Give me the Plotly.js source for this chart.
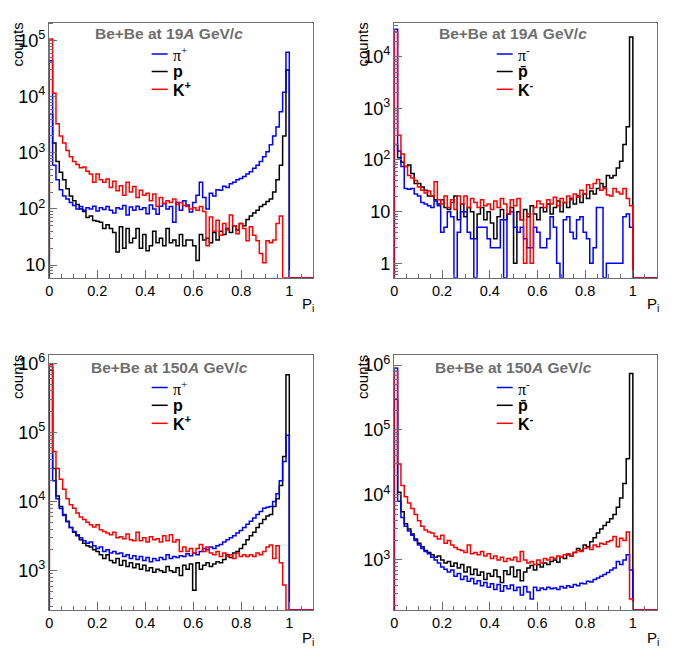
<!DOCTYPE html>
<html><head><meta charset="utf-8">
<script src="https://cdn.plot.ly/plotly-3.0.1.min.js"></script>
<style>html,body{margin:0;padding:0;background:#fff}#chart{width:685px;height:664px}</style>
</head><body><div id="chart"></div>
<script>
// ---- histogram binning (bin width 1/72 in P_i, empty bins continue past 1) ----
const BINS_PER_UNIT = 72;
const TOTAL_BINS = 80;

// ---- panel texts ----
const panelTitles = ['Be+Be at 19<i>A</i> GeV/<i>c</i>', 'Be+Be at 19<i>A</i> GeV/<i>c</i>',
                     'Be+Be at 150<i>A</i> GeV/<i>c</i>', 'Be+Be at 150<i>A</i> GeV/<i>c</i>'];
const legendPos = ['\u03c0<sup>+</sup>', 'p', 'K<sup>+</sup>'];
const legendNeg = ['\u03c0<sup>-</sup>', 'p\u0304', 'K<sup>-</sup>'];
const yLabel = 'counts';
const xLabel = 'P<sub>i</sub>';

// ---- Be+Be 19A GeV/c, positive ----
const pip19 = [44000,600,330,220,170,150,130,115,100,110,
  95,105,100,112,92,105,98,110,95,85,
  105,100,115,78,108,95,112,98,105,82,
  118,100,80,112,125,100,110,58,130,95,
  140,118,88,130,175,300,160,100,190,170,
  220,215,255,240,280,300,330,350,380,420,
  460,530,600,700,850,1050,1400,2000,2900,5400,
  12000,62000];
const p19 = [5000,1500,700,450,330,230,170,140,120,100,
  90,70,75,62,60,58,45,52,45,38,
  17,48,20,45,25,30,45,20,35,18,
  22,40,25,30,22,45,25,28,22,35,
  22,28,28,22,12,35,28,30,25,38,
  28,40,35,45,38,50,42,55,50,65,
  75,85,95,110,120,135,150,200,330,600,
  2000,30000];
const kp19 = [107000,11500,3300,2000,1500,1100,850,700,620,540,
  560,470,420,300,420,330,300,340,240,310,
  210,260,175,300,200,250,160,215,175,190,
  140,185,110,160,125,140,130,150,120,130,
  115,110,100,105,95,110,90,22,72,40,
  63,34,55,42,78,50,36,55,45,27,
  48,34,27,16,11,27,25,28,55,75,
  0,0];

// ---- Be+Be 19A GeV/c, negative ----
const pim19 = [34000,150,75,28,27,28,22,20,15,14,
  13,12,16,13,4,5,10,8,0,4,
  10,10,4,3,0,5,5,5,3,2,
  2,2,7,0,9,10,5,4,5,3,
  2,2,5,4,2,2,3,8,5,1,
  0,7,8,4,3,7,8,4,3,1,
  2,12,12,0,1,1,1,1,1,8,
  9,5];
const pbar19 = [200,110,90,75,80,55,35,35,30,26,
  20,20,17,14,17,12,11,15,20,7,
  14,8,12,10,3,9,12,7,10,6,
  3,8,11,7,9,12,1,10,7,11,
  8,13,9,7,12,10,14,9,12,16,
  10,15,12,18,14,20,15,22,18,25,
  22,28,35,30,50,45,50,70,95,200,
  440,24000];
const km19 = [30000,300,130,75,50,45,40,30,26,23,
  25,20,38,17,14,20,12,17,11,20,
  14,20,12,18,15,12,17,13,14,11,
  16,12,18,14,9,17,13,18,7,1,
  9,1,12,16,14,12,17,14,19,13,
  18,15,20,17,22,19,26,22,33,28,
  35,42,26,28,21,20,28,24,22,28,
  18,13];

// ---- Be+Be 150A GeV/c, positive ----
const pip150 = [900000,20000,11000,7900,6300,5100,4200,3700,3300,3000,
  2700,2500,2600,2300,2100,2200,1900,2000,1800,1900,
  1750,1800,1600,1700,1500,1650,1450,1600,1400,1550,
  1350,1500,1400,1550,1450,1700,1500,1600,1550,1650,
  1600,1750,1650,1800,1700,1900,2100,2000,2200,2100,
  2300,2400,2600,2800,3000,3200,3500,3800,4200,4700,
  5200,5800,6500,7200,8000,8300,8500,10000,13000,20000,
  38000,91000];
const p150 = [800000,30000,12000,8500,6500,5200,4200,3600,3200,2800,
  2500,2300,2200,2000,1900,1700,1500,1700,1400,1300,
  1500,1200,1400,1150,1300,1100,1250,1050,1200,1000,
  1100,950,1050,1000,950,1150,1000,950,1100,850,
  1200,1050,1250,520,1300,1050,1200,1300,1150,1250,
  1350,1300,1450,1700,1550,1800,1900,2100,2400,2800,
  3200,3600,4200,4800,5500,6200,6500,8500,11000,17000,
  45000,680000];
const kp150 = [950000,53000,30000,21000,15000,11000,9000,8000,6800,6000,
  5500,5000,4600,4300,4600,3900,3700,3500,3300,3600,
  3000,3100,2900,3400,2800,2700,3600,2700,3000,2600,
  3100,2800,2900,2600,3200,2700,3300,2600,2800,1900,
  2200,1900,2100,1800,2100,2400,1900,2200,1800,1700,
  1900,1600,1800,1600,1700,1500,1800,1600,1700,1600,
  1700,1600,1800,1700,1900,2200,2350,1500,2300,1300,
  620,0];

// ---- Be+Be 150A GeV/c, negative ----
const pim150 = [900000,8000,4500,3300,2800,2400,2000,1700,1500,1350,
  1250,1100,1000,900,780,720,650,700,560,620,
  500,560,470,520,430,480,400,450,380,430,
  350,420,330,400,360,410,340,380,290,390,
  320,250,380,340,370,350,380,360,370,350,
  390,370,400,380,420,400,440,430,470,460,
  500,530,560,600,640,700,750,950,850,1000,
  1200,700];
const pbar150 = [300000,11000,5500,3600,3000,2500,2100,1800,1600,1400,
  1300,1200,1100,1150,1000,900,950,800,900,750,
  850,650,780,600,720,580,650,500,620,560,
  700,550,450,680,600,780,550,700,480,650,
  750,820,700,850,780,900,850,950,1000,920,
  1100,1050,1200,1150,1300,1500,1400,1700,1600,1900,
  2200,2600,3000,3400,3800,4300,5000,6500,9000,15000,
  36000,740000];
const km150 = [800000,30000,14000,9400,7500,6200,5000,4000,3300,2900,
  2700,2600,2300,2100,2400,1800,2000,1700,1550,1450,
  1400,1300,1700,1250,1300,1200,1350,1150,1250,1050,
  1150,1000,1100,950,1050,1000,1100,950,1350,1000,
  900,950,850,1000,900,1050,1000,1100,1050,1150,
  1100,1200,1250,1150,1300,1400,1350,1500,1550,1450,
  1700,1600,1800,1750,1900,2000,2300,1600,2150,2000,
  2700,250];

// ---- layout geometry (pixels in the 685x664 page) ----
const W = 685, H = 664;
const panels = [
  {xa:'x',  ya:'y',  x0:49.3,  x1:313.3, y0:22.7, y1:277.7, yr:[0.774,5.32],  series:[p19,pip19,kp19],     leg:legendPos},
  {xa:'x2', ya:'y2', x0:394.3, x1:656.7, y0:22.7, y1:277.7, yr:[-0.279,4.658], series:[pbar19,pim19,km19], leg:legendNeg},
  {xa:'x3', ya:'y3', x0:49.3,  x1:313.3, y0:355,  y1:610,   yr:[2.431,6.12],  series:[p150,pip150,kp150],   leg:legendPos},
  {xa:'x4', ya:'y4', x0:394.3, x1:656.7, y0:355,  y1:610,   yr:[2.23,6.154],  series:[pbar150,pim150,km150], leg:legendNeg}
];
const colors = ['#000000', '#0000ff', '#ff0000']; // order: p, pi, K

function px(x){ return x / W; }
function py(y){ return 1 - y / H; }

function stepTrace(vals, floor, color, xa, ya){
  const full = vals.slice();
  while (full.length < TOTAL_BINS) full.push(0);
  const xs = [0], ys = [floor];
  for (let k = 0; k < full.length; k++){
    xs.push(k / BINS_PER_UNIT);
    ys.push(full[k] > 0 ? full[k] : floor);
  }
  xs.push(full.length / BINS_PER_UNIT); ys.push(floor);
  return {x: xs, y: ys, type:'scatter', mode:'lines', xaxis: xa, yaxis: ya,
          line:{shape:'hv', color: color, width:1.5}, hoverinfo:'skip', showlegend:false};
}

const FONT = 'Liberation Sans, Arial, Helvetica, sans-serif';
const SERIF = 'Liberation Serif, Times New Roman, serif';
const frameColor = '#6f6f6f';

const traces = [];
const layout = {
  width: W, height: H, autosize:false,
  margin:{l:0, r:0, t:0, b:0},
  paper_bgcolor:'#ffffff', plot_bgcolor:'#ffffff',
  showlegend:false,
  font:{family: FONT, color:'#000'},
  annotations: [], shapes: []
};

panels.forEach((p, i) => {
  const n = i === 0 ? '' : String(i + 1);
  const floor = Math.pow(10, p.yr[0]);
  // draw order: p, pi, K
  const drawOrder = [0, 1, 2];
  drawOrder.forEach(j => traces.push(stepTrace(p.series[j], floor, colors[j], p.xa, p.ya)));

  layout['xaxis' + n] = {
    domain:[px(p.x0), px(p.x1)], anchor: p.ya, range:[0, 1.1],
    showline:true, mirror:true, linecolor: frameColor, linewidth:1,
    ticks:'inside', ticklen:8, tickwidth:1, tickcolor: frameColor,
    tick0:0, dtick:0.2, showgrid:false, zeroline:false,
    tickfont:{family: FONT, size:14.5, color:'#000'},
    minor:{ticks:'inside', ticklen:4, tickcolor: frameColor, dtick:0.05, tick0:0, showgrid:false},
    fixedrange:true
  };
  layout['yaxis' + n] = {
    domain:[py(p.y1), py(p.y0)], anchor: p.xa, type:'log', range: p.yr,
    showline:true, mirror:true, linecolor: frameColor, linewidth:1,
    ticks:'inside', ticklen:8, tickwidth:1, tickcolor: frameColor,
    dtick:1, exponentformat:'power', showgrid:false, zeroline:false,
    tickfont:{family: FONT, size:14.5, color:'#000'},
    minor:{ticks:'inside', ticklen:4, tickcolor: frameColor, dtick:'D1', showgrid:false},
    fixedrange:true
  };

  // title
  const cx = (i % 2 === 0) ? 169 : 513;
  const cy = (i < 2) ? 34 : 367.5;
  layout.annotations.push({xref:'paper', yref:'paper', x:px(cx), y:py(cy), xanchor:'center', yanchor:'middle',
    showarrow:false, text:'<b>' + panelTitles[i] + '</b>', font:{family: FONT, size:15.5, color:'#6e6e6e'}});

  // legend
  const lx0 = (i % 2 === 0) ? 151.7 : 496.7;
  const lx1 = lx0 + 16;
  const tx = lx0 + 19;
  const ly = (i < 2) ? [54, 71.5, 89.3] : [387.5, 405.3, 423.3];
  const legColors = ['#0000ff', '#000000', '#ff0000'];
  for (let r = 0; r < 3; r++){
    layout.shapes.push({type:'line', xref:'paper', yref:'paper', x0:px(lx0), x1:px(lx1), y0:py(ly[r]), y1:py(ly[r]),
      line:{color: legColors[r], width:1.5}});
    const isPi = r === 0;
    layout.annotations.push({xref:'paper', yref:'paper', x:px(tx), y:py(ly[r]), xanchor:'left', yanchor:'middle',
      showarrow:false, text: isPi ? p.leg[r] : '<b>' + p.leg[r] + '</b>',
      font:{family: isPi ? SERIF : FONT, size:16, color:'#000'}});
  }

  // axis labels
  const ylx = (i % 2 === 0) ? 17.5 : 362.5;
  const yly = (i < 2) ? 45 : 377.5;
  layout.annotations.push({xref:'paper', yref:'paper', x:px(ylx), y:py(yly), xanchor:'center', yanchor:'middle',
    showarrow:false, textangle:-90, text: yLabel, font:{family: FONT, size:15, color:'#000'}});
  const xlx = (i % 2 === 0) ? 308 : 652.5;
  const xly = (i < 2) ? 305 : 638;
  layout.annotations.push({xref:'paper', yref:'paper', x:px(xlx), y:py(xly), xanchor:'center', yanchor:'middle',
    showarrow:false, text: xLabel, font:{family: FONT, size:15, color:'#000'}});
});

Plotly.newPlot('chart', traces, layout, {staticPlot:true, displayModeBar:false});
</script>
</body></html>
